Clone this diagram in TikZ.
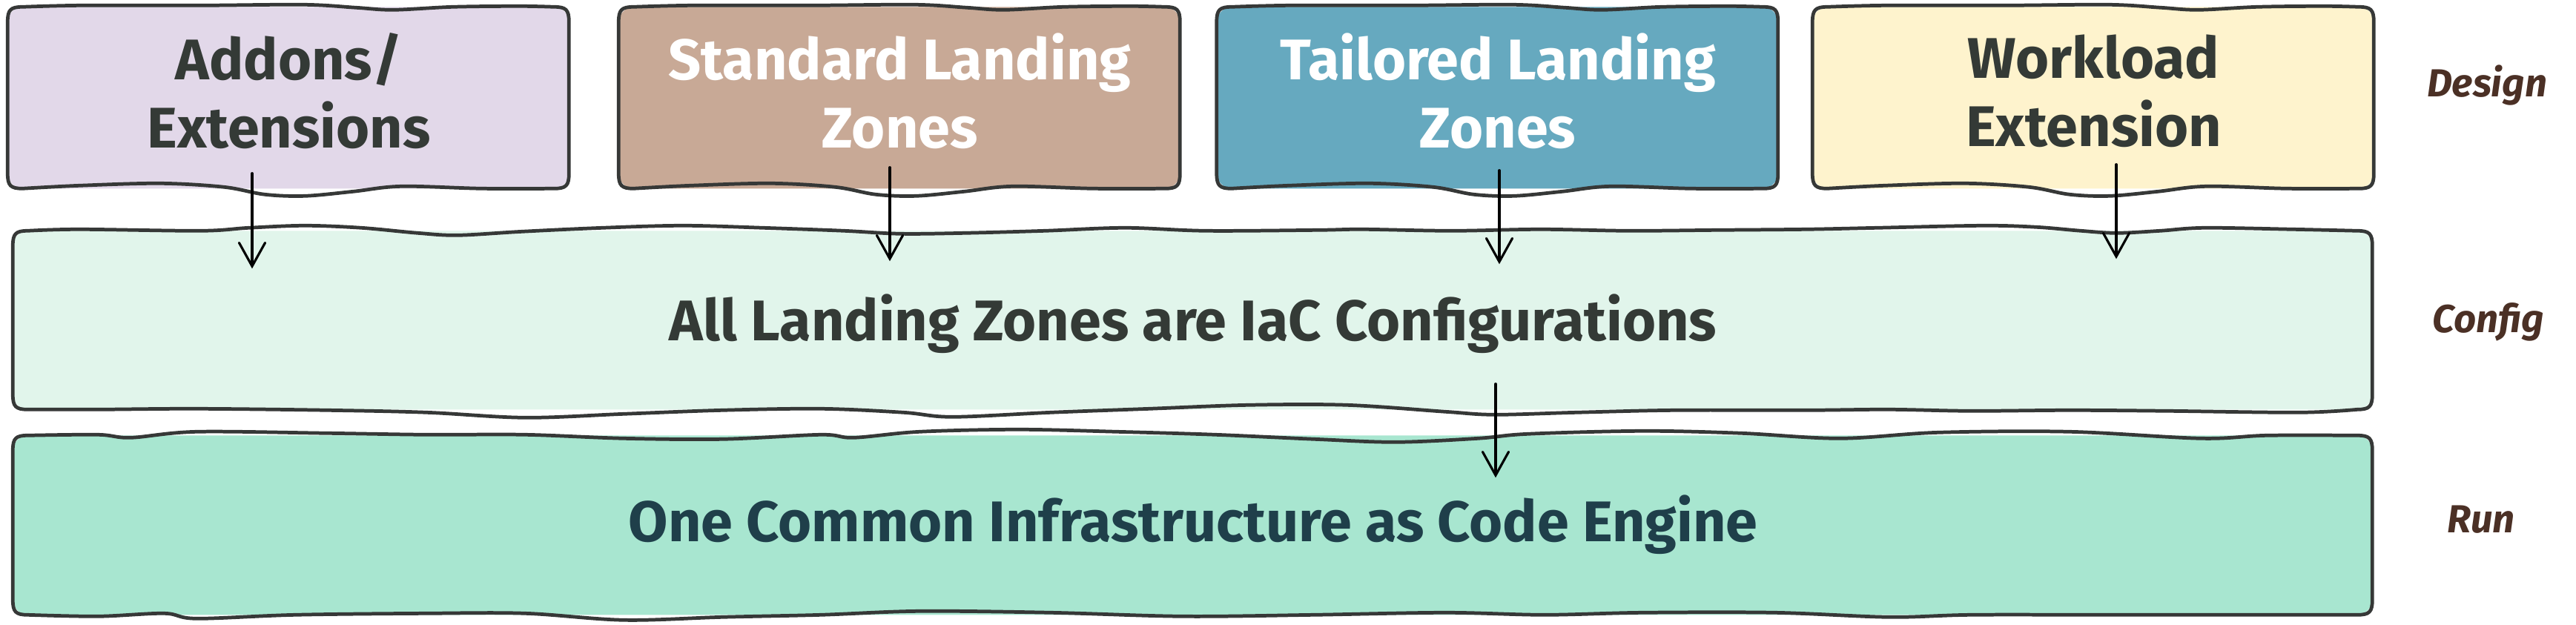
\documentclass[tikz,border=0pt]{standalone}
\usepackage{fontspec}
\setmainfont{Fira Sans}
\usetikzlibrary{arrows.meta,calc,backgrounds}
\definecolor{cAdd}{HTML}{E2D8E9}
\definecolor{cStd}{HTML}{C8A996}
\definecolor{cTai}{HTML}{66A9BF}
\definecolor{cWrk}{HTML}{FEF3CD}
\definecolor{cCfg}{HTML}{E1F5EB}
\definecolor{cRun}{HTML}{A8E6D0}
\definecolor{cLine}{HTML}{363837}
\definecolor{cDark}{HTML}{343A36}
\definecolor{cRunTxt}{HTML}{1F3F4A}
\definecolor{cLbl}{HTML}{4B3025}
\tikzset{
  skline/.style={draw=cLine, line width=1.35pt, line join=round},
  dbox/.style={minimum width=7.57cm, minimum height=2.45cm, inner sep=0pt, align=center,
    font=\fontsize{22}{26.2}\selectfont\bfseries},
  wbox/.style={minimum width=31.82cm, inner sep=0pt, align=center,
    font=\fontsize{22}{26}\selectfont\bfseries, text height=15.2pt, text depth=0pt},
  lbl/.style={anchor=base, text=cLbl, font=\fontsize{15}{18}\selectfont\bfseries\itshape},
  arr/.style={draw=black, line width=0.9pt, line cap=round,
    -{Straight Barb[length=9pt,width=10pt,line cap=round]}},
}
% #1 shift point, #2 fill, #3 width, #4 height, #5 inner top points, #6 inner bottom points (right to left)
\newcommand{\skshape}[6]{%
  \begin{scope}[on background layer, shift={#1}]
    \fill[#2, rounded corners=6pt] (0,0) rectangle (#3,-#4);
    \draw[skline] (0,-0.2) .. controls (0,-0.04) and (0.04,0) .. (0.2,0)
      -- plot[smooth, tension=0.55] coordinates {(0.2,0) #5 (#3-0.2,0)}
      .. controls (#3-0.04,0) and (#3,-0.04) .. (#3,-0.2)
      -- (#3,-#4+0.2) .. controls (#3,-#4+0.04) and (#3-0.04,-#4) .. (#3-0.2,-#4)
      -- plot[smooth, tension=0.55] coordinates {(#3-0.2,-#4) #6 (0.2,-#4)}
      .. controls (0.04,-#4) and (0,-#4+0.04) .. (0,-#4+0.2) -- cycle;
  \end{scope}}
\newcommand{\designshape}[2]{%
  \skshape{([yshift=-0.10cm]#1.north west)}{#2}{7.57}{2.45}%
    {(1,0.02) (2.6,0.02) (4,0.03) (4.7,-0.01) (5.2,-0.04) (6,0) (6.9,0.01)}%
    {(6.4,-2.45) (5.31,-2.42) (4.66,-2.49) (4.01,-2.55) (3.47,-2.53) (2.92,-2.43) (2.06,-2.38) (0.97,-2.41)}}
\begin{document}
\begin{tikzpicture}
\useasboundingbox (0,0) rectangle (34.74,-8.43);
% design boxes
\node[dbox, text=cDark] (addons) at (3.895,-1.225) {Addons/\\Extensions};
\node[dbox, text=white] (std) at (12.135,-1.225) {Standard Landing\\Zones};
\node[dbox, text=white] (tail) at (20.20,-1.225) {Tailored Landing\\Zones};
\node[dbox, text=cDark] (work) at (28.235,-1.225) {Workload\\Extension};
% wide boxes
\node[wbox, minimum height=2.41cm, text=cDark] (cfg) at (16.09,-4.325) {All Landing Zones are IaC Configurations};
\node[wbox, minimum height=2.42cm, text=cRunTxt] (run) at (16.09,-7.04) {One Common Infrastructure as Code Engine};
% labels
\node[lbl] (ldesign) at (33.54,-1.30) {Design};
\node[lbl] (lconfig) at (33.56,-4.48) {Config};
\node[lbl] (lrun) at (33.46,-7.18) {Run};
% shapes
\designshape{addons}{cAdd}
\designshape{std}{cStd}
\designshape{tail}{cTai}
\designshape{work}{cWrk}
\skshape{(cfg.north west)}{cCfg}{31.82}{2.41}%
  {(0.9,0.02) (2.53,0) (3.18,0.04) (3.94,0.07) (4.7,0.04) (5.46,-0.03) (6.0,-0.06) (6.87,-0.01) (7.95,0.04) (9.04,0.07) (10.12,0.04) (11.21,0) (11.97,-0.04) (12.84,-0.03) (13.92,0) (15.0,0.04) (16.09,0) (17.6,0.01) (18.21,0.02) (19.4,0) (20.6,0.02) (21.79,0) (22.99,0.01) (24.18,0.02) (25.14,0.04) (26.57,0.07) (27.29,0.05) (27.89,0) (28.37,-0.03) (28.96,0) (29.56,0.04) (30.75,0.02)}%
  {(30.84,-2.45) (29.07,-2.43) (27.74,-2.42) (26.41,-2.43) (25.3,-2.41) (24.19,-2.42) (22.42,-2.42) (21.09,-2.45) (19.98,-2.48) (19.32,-2.44) (17.99,-2.35) (16.66,-2.35) (15.33,-2.40) (14.0,-2.45) (12.67,-2.51) (12.01,-2.45) (10.9,-2.40) (9.57,-2.42) (8.24,-2.47) (6.91,-2.52) (5.58,-2.45) (4.25,-2.42) (2.48,-2.40) (1.15,-2.41)}
\skshape{([yshift=-0.05cm]run.north west)}{cRun}{31.82}{2.42}%
  {(1.15,0.01) (1.59,-0.03) (2.48,0.05) (4.25,0.03) (5.58,0.01) (6.91,0.01) (8.24,-0.04) (9.57,-0.05) (10.9,0.01) (11.34,-0.03) (12.23,0.05) (13.56,0.08) (14.89,0.05) (16.22,0.01) (17.55,-0.05) (18.65,-0.09) (19.76,-0.04) (20.43,0.02) (21.98,0.06) (23.31,0.03) (24.64,-0.04) (25.97,0.04) (27.74,0.05) (29.51,-0.04) (30.4,0)}%
  {(29.95,-2.42) (28.18,-2.42) (26.41,-2.42) (25.3,-2.45) (23.76,-2.39) (21.98,-2.39) (20.65,-2.42) (19.32,-2.39) (17.55,-2.42) (15.78,-2.44) (14.0,-2.39) (12.23,-2.37) (10.9,-2.42) (9.57,-2.45) (8.24,-2.49) (6.91,-2.40) (5.58,-2.40) (3.81,-2.42) (2.48,-2.47) (2.04,-2.40) (1.15,-2.44)}
% connectors
\draw[arr] ($(addons.south)+(-0.495,0.12)$) -- ($(addons.south|-cfg.north)+(-0.495,-0.51)$);
\draw[arr] ($(std.south)+(-0.135,0.20)$) -- ($(std.south|-cfg.north)+(-0.135,-0.41)$);
\draw[arr] ($(tail.south)+(0.02,0.16)$) -- ($(tail.south|-cfg.north)+(0.02,-0.45)$);
\draw[arr] ($(work.south)+(0.305,0.24)$) -- ($(work.south|-cfg.north)+(0.305,-0.38)$);
\draw[arr] ($(cfg.south)+(4.08,0.36)$) -- ($(cfg.south|-run.north)+(4.08,-0.62)$);
\end{tikzpicture}
\end{document}
